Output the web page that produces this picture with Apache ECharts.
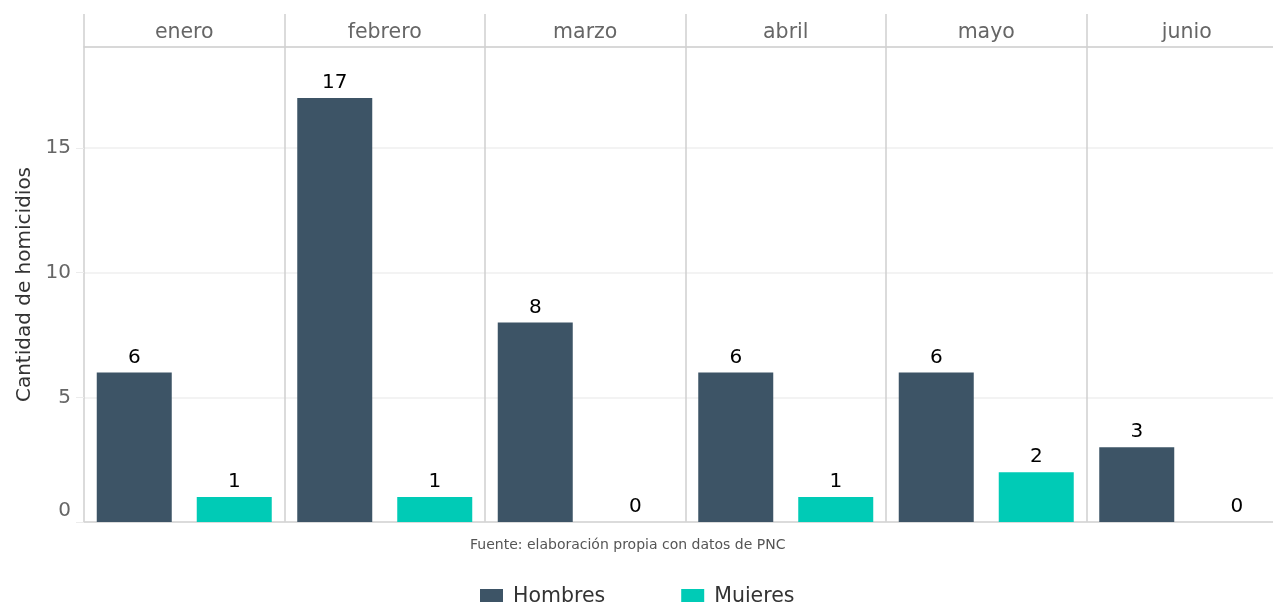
<!DOCTYPE html>
<html>
<head>
<meta charset="utf-8">
<script src="https://cdn.jsdelivr.net/npm/echarts@6/dist/echarts.min.js"></script>
<style>
  html, body { margin: 0; padding: 0; background: #fff; }
  #main { width: 1273px; height: 602px; }
</style>
</head>
<body>
<div id="main"></div>
<script>
// datos por mes
const meses = ['enero', 'febrero', 'marzo', 'abril', 'mayo', 'junio'];
const hombres = [6, 17, 8, 6, 6, 3];
const mujeres = [1, 1, 0, 1, 2, 0];

const fuente = 'DejaVu Sans';
let myChart = echarts.init(document.getElementById('main'));

const etiqueta = {
  show: true,
  position: 'top',
  distance: 5,
  color: '#000',
  fontFamily: fuente,
  fontSize: 20
};

myChart.setOption({
  animation: false,
  textStyle: { fontFamily: fuente },
  title: {
    text: 'Fuente: elaboración propia con datos de PNC',
    left: 470,
    top: 538,
    padding: 0,
    textStyle: { fontSize: 14, fontWeight: 'normal', color: '#555', fontFamily: fuente }
  },
  legend: {
    left: 480,
    top: 586,
    padding: 0,
    icon: 'rect',
    itemWidth: 23,
    itemHeight: 23,
    itemGap: 76,
    formatter: name => '{t|' + name + '}',
    textStyle: {
      fontSize: 20.5, color: '#333', fontFamily: fuente,
      rich: { t: { fontSize: 20.5, color: '#333', fontFamily: fuente, padding: [0, 0, 8, 5] } }
    },
    data: ['Hombres', 'Mujeres']
  },
  grid: { left: 84, right: -14, top: 47, bottom: 80, outerBoundsMode: 'none', containLabel: false },
  xAxis: [{
    type: 'category',
    position: 'top',
    data: meses,
    axisLine: { show: true, onZero: false, lineStyle: { color: '#cfcfcf', width: 1.5 } },
    axisTick: { show: true, inside: false, alignWithLabel: false, interval: 0, length: 33, lineStyle: { color: '#cfcfcf', width: 1.5 } },
    axisLabel: { margin: 4, fontSize: 20.5, color: '#666', fontFamily: fuente },
    splitLine: { show: true, interval: 0, lineStyle: { color: '#cfcfcf', width: 1.5 } }
  }, {
    type: 'category',
    position: 'bottom',
    data: meses,
    axisLine: { show: true, onZero: false, lineStyle: { color: '#d3d3d3', width: 1.5 } },
    axisTick: { show: false },
    axisLabel: { show: false }
  }],
  yAxis: {
    type: 'value',
    min: 0,
    max: 19.05,
    interval: 5,
    name: 'Cantidad de homicidios',
    nameLocation: 'middle',
    nameGap: 49,
    nameTextStyle: { fontSize: 20, color: '#333', fontFamily: fuente },
    axisLine: { show: false },
    axisTick: { show: true, length: 8, lineStyle: { color: '#ececec' } },
    axisLabel: {
      margin: 13,
      fontSize: 20,
      color: '#666',
      fontFamily: fuente,
      showMaxLabel: false,
      formatter: v => (v === 0 ? '{z|0}' : String(v)),
      rich: { z: { fontSize: 20, color: '#666', fontFamily: fuente, padding: [0, 0, 22, 0] } }
    },
    splitLine: { show: true, lineStyle: { color: '#efefef', width: 1.5 } }
  },
  series: [{
    name: 'Hombres',
    type: 'bar',
    data: hombres,
    barWidth: 75,
    barGap: '33.33%',
    itemStyle: { color: '#3d5466' },
    label: etiqueta
  }, {
    name: 'Mujeres',
    type: 'bar',
    data: mujeres,
    barWidth: 75,
    barGap: '33.33%',
    itemStyle: { color: '#00cbb6' },
    label: etiqueta
  }]
});

window.onresize = function () {
  myChart.resize();
};
</script>
</body>
</html>
